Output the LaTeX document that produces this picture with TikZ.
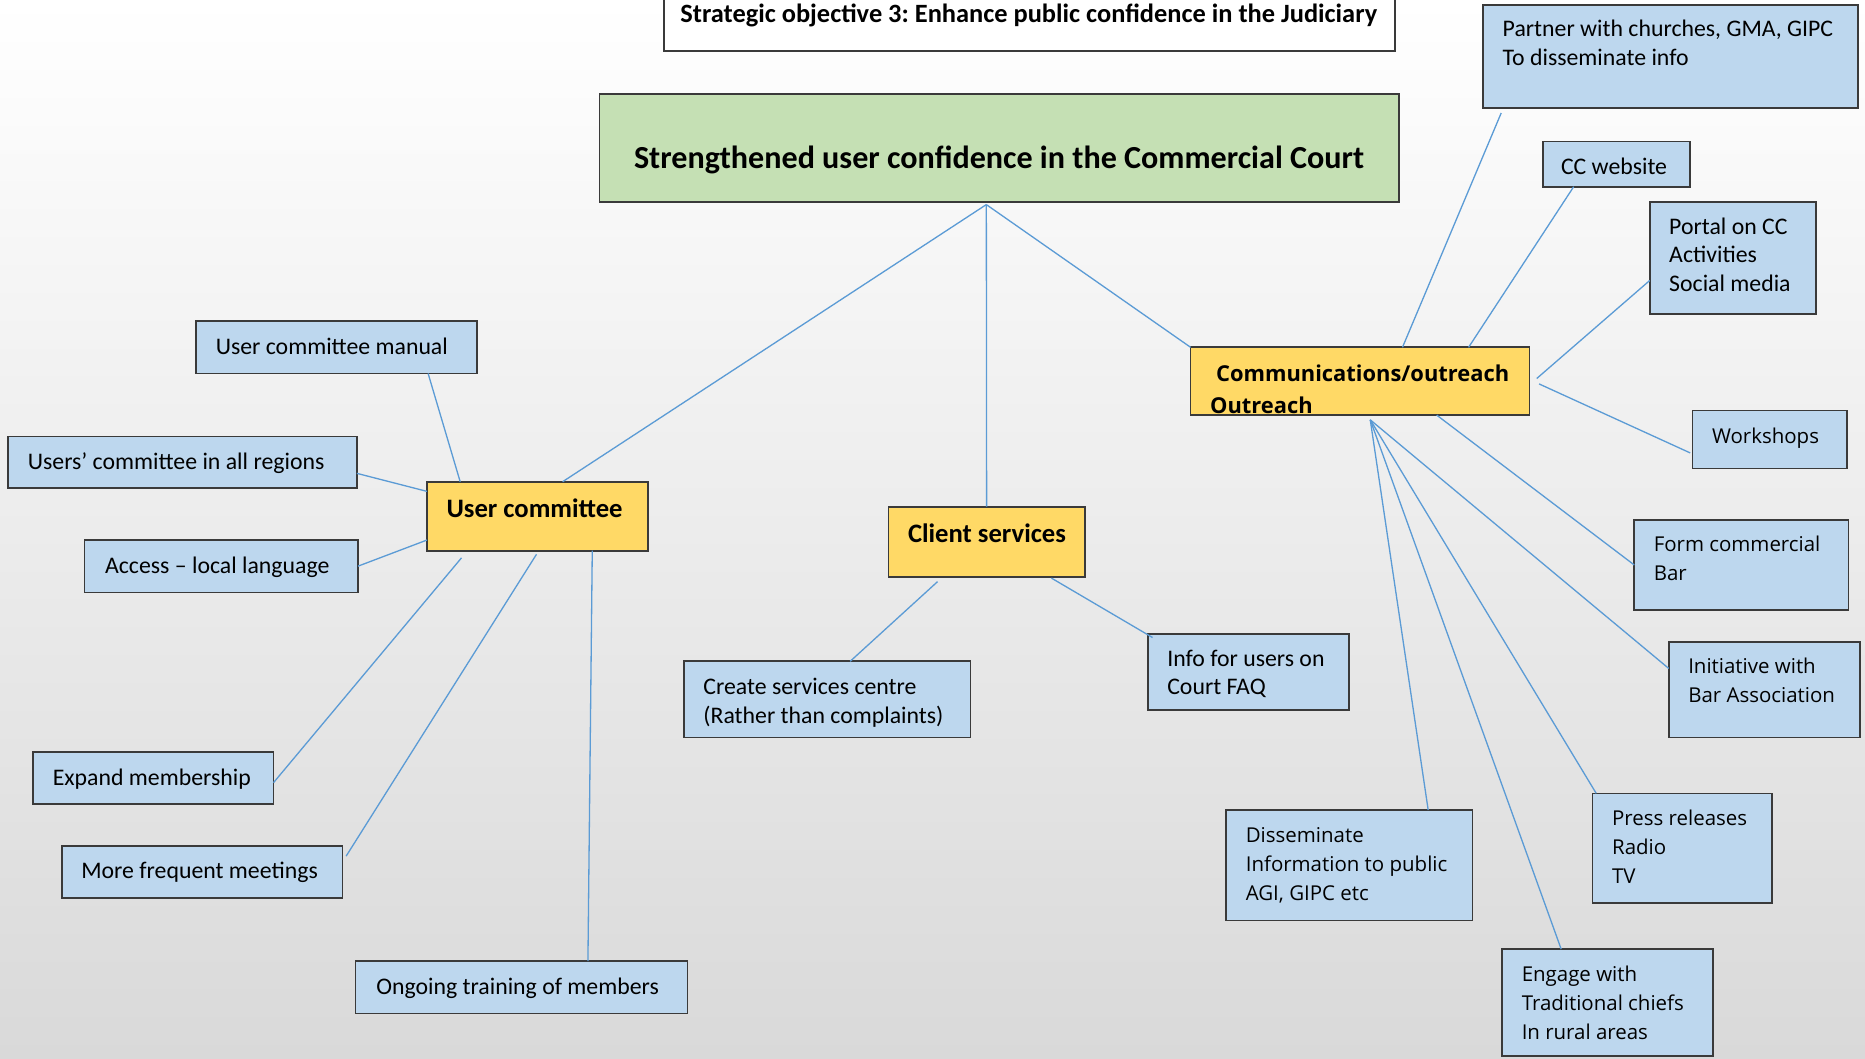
\documentclass[tikz,border=0pt]{standalone}
\usepackage{fontspec}
\setmainfont{Carlito}
\newfontfamily\osans{Open Sans}
\frenchspacing
\usetikzlibrary{calc,fit}
\definecolor{bluefill}{HTML}{BDD7EE}
\definecolor{yellowfill}{HTML}{FFD966}
\definecolor{greenfill}{HTML}{C5E0B4}
\definecolor{linkblue}{HTML}{5B9BD5}
\definecolor{edgegray}{HTML}{3A3A3A}
\definecolor{bgbot}{HTML}{D9D9D9}
\definecolor{bgmid}{HTML}{F6F6F6}
\tikzset{
  box/.style={draw=edgegray, line width=0.7pt, inner sep=0pt, outer sep=0pt},
  bluebox/.style={box, fill=bluefill},
  yellowbox/.style={box, fill=yellowfill},
  greenbox/.style={box, fill=greenfill},
  whitebox/.style={box, fill=white},
  txt/.style={inner sep=0pt, anchor=base west, align=left, font=\fontsize{10}{12}\selectfont},
  otxt/.style={txt, font=\osans\fontsize{8.6}{12.2}\selectfont},
  btxt/.style={inner sep=0pt, anchor=base west, align=left, font=\bfseries\fontsize{11.2}{13}\selectfont},
  link/.style={draw=linkblue, line width=0.55pt},
}
\begin{document}
\begin{tikzpicture}[x=0.5pt,y=-0.5pt]
\useasboundingbox (0,0) rectangle (1568,890);
\shade[top color=white, middle color=bgmid, bottom color=bgbot] (0,0) rectangle (1568,890);
\begin{scope}
\clip (0,0) rectangle (1568,890);
% title
\node[whitebox, fit={(558,-12) (1173,43)}] (title) {};
\node[inner sep=0pt, anchor=base, font=\bfseries\fontsize{11.1}{13}\selectfont] (titletxt) at (865,19) {Strategic objective 3: Enhance public confidence in the Judiciary};
% goal
\node[greenbox, fit={(504,79) (1176,170)}] (goal) {};
\node[inner sep=0pt, anchor=base, font=\bfseries\fontsize{13.5}{16}\selectfont] (goaltxt) at (840,142) {Strengthened user confidence in the Commercial Court};
% main branches
\node[yellowbox, fit={(359,405) (545,463)}] (uc) {};
\node[btxt] (uctxt) at (375,435) {User committee};
\node[yellowbox, fit={(747,426) (912,485)}] (cs) {};
\node[btxt] (cstxt) at (763,456) {Client services};
\node[yellowbox, fit={(1001,292) (1286,349)}] (comms) {};
\node[inner sep=0pt, anchor=base west, align=left, font=\osans\bfseries\fontsize{9.2}{13.5}\selectfont] (commstxt) at (1022,348) {Communications/outreach\\\hspace*{-2.5pt}Outreach};
% user committee leaves
\node[bluebox, fit={(165,270) (401,314)}] (manual) {};
\node[txt] at (181,298) {User committee manual};
\node[bluebox, fit={(7,367) (300,410)}] (users) {};
\node[txt] at (23,395) {Users’ committee in all regions};
\node[bluebox, fit={(71,454) (301,498)}] (access) {};
\node[txt] at (88,482) {Access – local language};
\node[bluebox, fit={(28,632) (230,676)}] (expand) {};
\node[txt] at (44,660) {Expand membership};
\node[bluebox, fit={(52,711) (288,755)}] (more) {};
\node[txt] at (68,739) {More frequent meetings};
\node[bluebox, fit={(299,808) (578,852)}] (ongoing) {};
\node[txt] at (316,836) {Ongoing training of members};
% client services leaves
\node[bluebox, fit={(575,556) (816,620)}] (create) {};
\node[txt] at (591,608) {Create services centre\\(Rather than complaints)};
\node[bluebox, fit={(965,533) (1134,597)}] (info) {};
\node[txt] at (981,584) {Info for users on\\Court FAQ};
% communications leaves
\node[bluebox, fit={(1247,4) (1562,91)}] (partner) {};
\node[txt] at (1263,55) {Partner with churches, GMA, GIPC\\To disseminate info};
\node[bluebox, fit={(1297,119) (1421,157)}] (ccweb) {};
\node[txt] at (1312,147) {CC website};
\node[bluebox, fit={(1387,170) (1527,264)}] (portal) {};
\node[txt] at (1403,245) {Portal on CC\\Activities\\Social media};
\node[bluebox, fit={(1423,345) (1553,394)}] (workshops) {};
\node[otxt] at (1439,373) {Workshops};
\node[bluebox, fit={(1374,437) (1554,513)}] (form) {};
\node[otxt] at (1390,488) {Form commercial\\Bar};
\node[bluebox, fit={(1403,540) (1564,620)}] (initiative) {};
\node[otxt] at (1419,591) {Initiative with\\Bar Association};
\node[bluebox, fit={(1339,667) (1490,759)}] (press) {};
\node[otxt] at (1355,743) {Press releases\\Radio\\TV};
\node[bluebox, fit={(1263,798) (1440,888)}] (engage) {};
\node[otxt] at (1279,874) {Engage with\\Traditional chiefs\\In rural areas};
\node[bluebox, fit={(1031,681) (1238,774)}] (diss) {};
\node[otxt] at (1047,757) {Disseminate\\Information to public\\AGI, GIPC etc};
% hubs
\coordinate (ghub) at ($(goal.south west)!0.484!(goal.south east)+(0,2)$);
\coordinate (chub) at ($(comms.south west)!0.53!(comms.south east)+(0,4)$);
% connectors from goal
\draw[link] (ghub) -- ($(uc.north west)!0.613!(uc.north east)$);
\draw[link] (ghub) -- (cs.north);
\draw[link] (ghub) -- (comms.north west);
% user committee connectors
\draw[link] ($(manual.south west)!0.826!(manual.south east)$) -- ($(uc.north west)!0.15!(uc.north east)$);
\draw[link] ($(users.north east)!0.72!(users.south east)$) -- ($(uc.north west)!0.14!(uc.south west)$);
\draw[link] (access.east) -- ($(uc.north west)!0.845!(uc.south west)$);
\draw[link] ($(expand.north east)!0.59!(expand.south east)$) -- ($(uc.south west)!0.156!(uc.south east)+(0,6)$);
\draw[link] ($(more.north east)!0.2!(more.south east)+(3,0)$) -- ($(uc.south west)!0.495!(uc.south east)+(0,3)$);
\draw[link] ($(ongoing.north west)!0.70!(ongoing.north east)$) -- ($(uc.south west)!0.747!(uc.south east)$);
% client services connectors
\draw[link] ($(create.north west)!0.58!(create.north east)$) -- ($(cs.south west)!0.25!(cs.south east)+(0,4)$);
\draw[link] ($(info.north west)+(4,3)$) -- ($(cs.south west)!0.83!(cs.south east)+(0,1)$);
% communications connectors
\draw[link] ($(partner.south west)!0.048!(partner.south east)+(0,4)$) -- ($(comms.north west)!0.625!(comms.north east)$);
\draw[link] ($(ccweb.south west)!0.21!(ccweb.south east)$) -- ($(comms.north west)!0.82!(comms.north east)$);
\draw[link] ($(portal.north west)!0.70!(portal.south west)$) -- ($(comms.north east)!0.46!(comms.south east)+(6,0)$);
\draw[link] ($(workshops.north west)!0.73!(workshops.south west)+(-2,0)$) -- ($(comms.north east)!0.54!(comms.south east)+(8,0)$);
\draw[link] (form.west) -- ($(comms.south west)!0.726!(comms.south east)$);
\draw[link] (chub) -- ($(initiative.north west)!0.275!(initiative.south west)$);
\draw[link] (chub) -- ($(press.north west)+(3,0)$);
\draw[link] (chub) -- ($(engage.north west)!0.28!(engage.north east)$);
\draw[link] (chub) -- ($(diss.north west)!0.82!(diss.north east)$);
\end{scope}
\end{tikzpicture}
\end{document}
